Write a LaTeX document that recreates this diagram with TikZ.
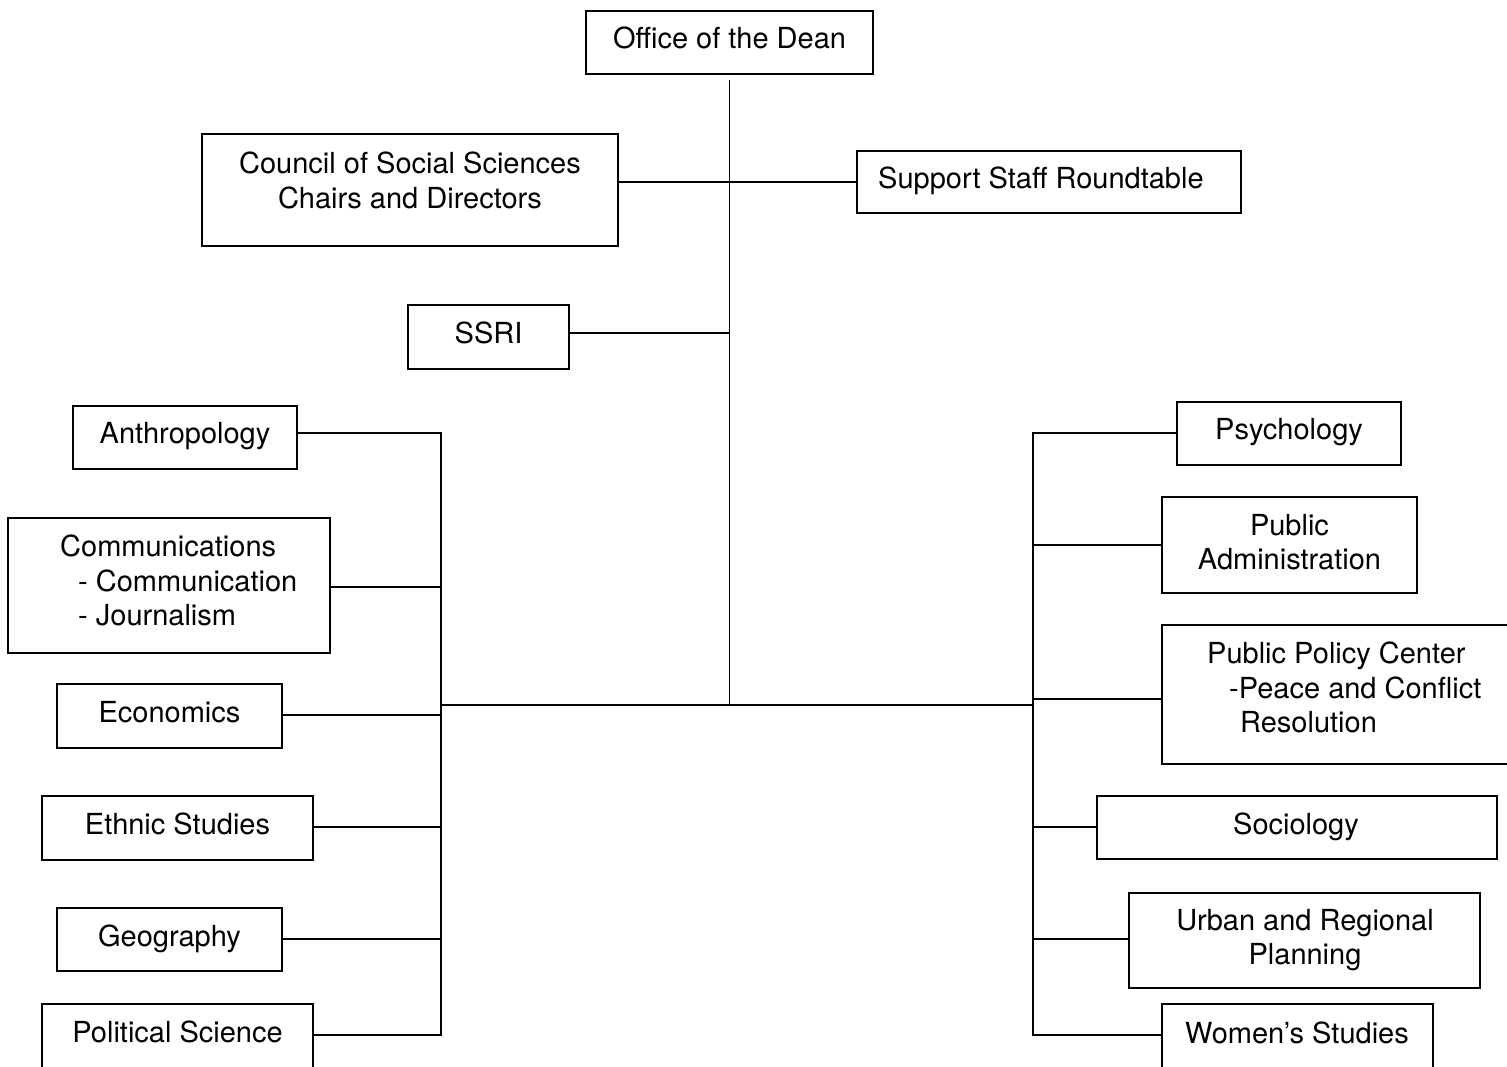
\documentclass[tikz,border=0pt]{standalone}
\usepackage{fontspec}
\setmainfont{TeX Gyre Heros}
\newcommand\orgfont{\fontsize{29}{34.5}\selectfont}
\tikzset{
  unit/.style={draw, line width=1.8pt, inner sep=0pt},
  unittext/.style={inner sep=0pt, anchor=north, align=center, font=\orgfont},
  link/.style={line width=1.8pt}
}
\begin{document}
\begin{tikzpicture}[x=1pt,y=-1pt]
    \useasboundingbox (0,0) rectangle (1507,1067);
    \clip (0,0) rectangle (1507,1067);
    \fill[white] (0,0) rectangle (1507,1067);

    % top of the chart
    \node[unit, minimum width=287, minimum height=63] (dean) at (729.5,42.5) {};
    \node[unit, minimum width=416, minimum height=112] (council) at (410,190) {};
    \node[unit, minimum width=384, minimum height=62] (support) at (1049,182) {};
    \node[unit, minimum width=161, minimum height=64] (ssri) at (488.5,337) {};

    \node[unittext] (dean text) at (729.5,27) {Office of the Dean};
    \node[unittext] (council text) at (410,152) {Council of Social Sciences\\Chairs and Directors};
    \node[unittext, anchor=north west] (support text) at (878,167) {Support Staff Roundtable};
    \node[unittext] (ssri text) at (488.5,322) {SSRI};

    % left departments
    \node[unit, minimum width=224, minimum height=63] (anth) at (185,437.5) {};
    \node[unit, minimum width=322, minimum height=135] (comm) at (169,585.5) {};
    \node[unit, minimum width=225, minimum height=64] (econ) at (169.5,716) {};
    \node[unit, minimum width=271, minimum height=64] (ethnic) at (177.5,828) {};
    \node[unit, minimum width=225, minimum height=63] (geog) at (169.5,939.5) {};
    \node[unit, minimum width=271, minimum height=80] (polsci) at (177.5,1044) {};

    \node[unittext] (anth text) at (185,422) {Anthropology};
    \node[unittext, anchor=north west, align=left] (comm text) at (60,535)
      {Communications\\\hspace*{18pt}- Communication\\\hspace*{18pt}- Journalism};
    \node[unittext] (econ text) at (169.5,701) {Economics};
    \node[unittext] (ethnic text) at (177.5,813) {Ethnic Studies};
    \node[unittext] (geog text) at (169.5,925) {Geography};
    \node[unittext] (polsci text) at (177.5,1021) {Political Science};

    % right departments
    \node[unit, minimum width=224, minimum height=63] (psych) at (1289,433.5) {};
    \node[unit, minimum width=255, minimum height=96] (pubadm) at (1289.5,545) {};
    \node[unit, minimum width=368, minimum height=139] (ppc) at (1346,694.5) {};
    \node[unit, minimum width=400, minimum height=63] (socio) at (1297,827.5) {};
    \node[unit, minimum width=351, minimum height=95] (urban) at (1304.5,940.5) {};
    \node[unit, minimum width=271, minimum height=80] (women) at (1297.5,1044) {};

    \node[unittext] (psych text) at (1289,418) {Psychology};
    \node[unittext] (pubadm text) at (1289.5,514) {Public\\Administration};
    \node[unittext, anchor=north west, align=left] (ppc text) at (1207,642)
      {Public Policy Center\\\hspace*{22pt}-Peace and Conflict\\\hspace*{33pt}Resolution};
    \node[unittext] (socio text) at (1296,813) {Sociology};
    \node[unittext] (urban text) at (1305,909) {Urban and Regional\\Planning};
    \node[unittext] (women text) at (1297,1022) {Women's Studies};

    % connectors
    \coordinate (trunk top) at (729.5,80);
    \coordinate (trunk foot) at (729.5,705);
    \coordinate (left bus) at (441,705);
    \coordinate (right bus) at (1033,705);

    \draw[link] (trunk top) -- (trunk foot);
    \draw[link] (left bus) -- (right bus);
    \draw[link] (council.east |- support.west) -- (support.west);
    \draw[link] (ssri.east |- 0,333) -- (trunk top |- 0,333);

    \draw[link] (anth.east |- 0,433) -- (left bus |- 0,433) -- (left bus |- 0,1035) -- (polsci.east |- 0,1035);
    \foreach \unit/\y in {comm/587,econ/715,ethnic/827,geog/939}
      \draw[link] (\unit.east |- 0,\y) -- (left bus |- 0,\y);

    \draw[link] (psych.west |- 0,433) -- (right bus |- 0,433) -- (right bus |- 0,1035) -- (women.west |- 0,1035);
    \foreach \unit/\y in {pubadm/545,ppc/699,socio/827,urban/939}
      \draw[link] (\unit.west |- 0,\y) -- (right bus |- 0,\y);
  \end{tikzpicture}
\end{document}
